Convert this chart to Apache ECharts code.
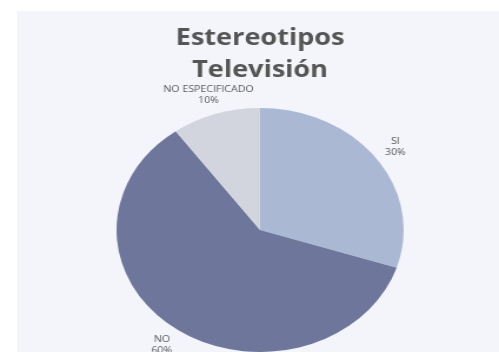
<!DOCTYPE html>
<html><head><meta charset="utf-8">
<script src="https://cdn.jsdelivr.net/npm/echarts@6/dist/echarts.min.js"></script>
<style>
html,body{margin:0;padding:0;background:#fff;overflow:hidden;width:499px;height:352px}
#panel{position:absolute;left:17px;top:11px;width:482px;height:341px;background:#f4f5fa}
#chart{position:absolute;left:0;top:0;width:424px;height:352px;transform:scaleX(1.1769);transform-origin:0 0}
</style></head><body>
<div id="panel"></div><div id="chart"></div>
<script>
const titleLines = ['Estereotipos', 'Televisión'];
const categories = ['SI', 'NO', 'NO ESPECIFICADO'];
const values = [30, 60, 10];

const cx = 221, cy = 230, R = 122, labelR = 142;
const total = values.reduce((a, b) => a + b, 0);
const chart = echarts.init(document.getElementById('chart'), null, {renderer: 'canvas'});
chart.setOption({
  animation: false,
  backgroundColor: 'transparent',
  title: {
    text: titleLines.join('\n'),
    left: 216, top: 17, textAlign: 'center',
    textStyle: {fontFamily: 'Open Sans', fontWeight: 'bold', fontSize: 23, lineHeight: 32, color: '#555555'}
  },
  series: [{
    type: 'pie',
    center: [cx, cy],
    radius: R,
    startAngle: 90,
    clockwise: true,
    silent: true,
    color: ['#abb8d4', '#6e769b', '#d3d5de'],
    itemStyle: {borderWidth: 0},
    label: {
      show: true, position: 'outside', formatter: '{b}\n{d}%',
      fontFamily: 'Open Sans', fontSize: 9, lineHeight: 11, color: '#595959', align: 'center'
    },
    labelLine: {show: false, length: 5, length2: 0},
    labelLayout: function (p) {
      const i = p.dataIndex;
      let start = 0;
      for (let k = 0; k < i; k++) start += values[k];
      const mid = (90 - (start + values[i] / 2) / total * 360) * Math.PI / 180;
      return {x: cx + labelR * Math.cos(mid), y: cy - labelR * Math.sin(mid), align: 'center', verticalAlign: 'middle'};
    },
    data: categories.map((c, i) => ({name: c, value: values[i]}))
  }]
});
</script>
</body></html>
